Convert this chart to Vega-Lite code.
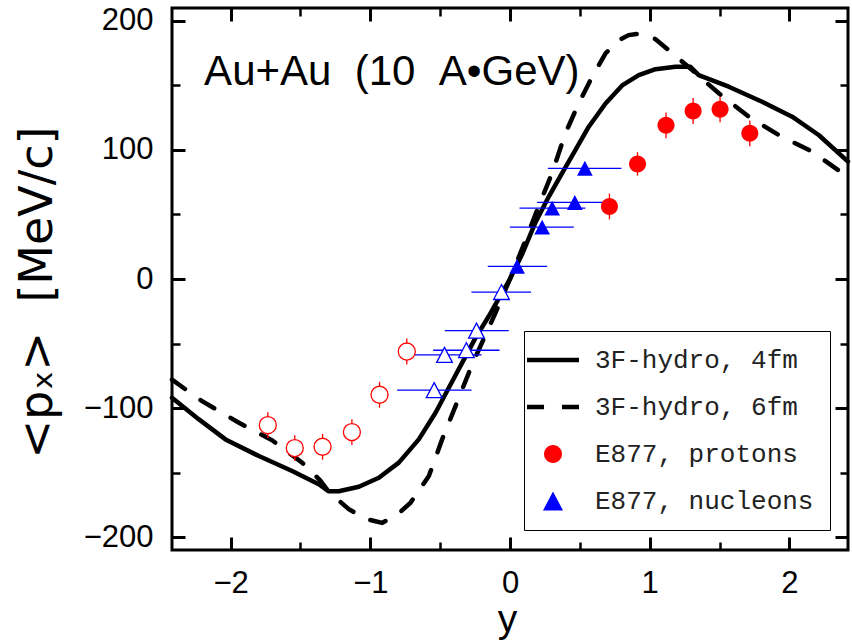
{
  "$schema": "https://vega.github.io/schema/vega-lite/v6.json",
  "width": 676,
  "height": 542,
  "autosize": "none",
  "padding": {"left": 172, "top": 8, "right": 4, "bottom": 90},
  "background": "white",
  "config": {
    "view": {"stroke": "black", "strokeWidth": 3},
    "font": "Liberation Sans",
    "axis": {
      "domain": false, "grid": false, "tickColor": "black", "labelColor": "black", "titleColor": "black",
      "labelFont": "Liberation Sans", "labelFontSize": 31, "titleFont": "DejaVu Sans", "titleFontSize": 46, "titleFontWeight": "normal"
    },
    "legend": {"title": null}
  },
  "datasets": {
    "curves": [
      {"series": "3F-hydro, 4fm", "rapidity": -2.42, "px": -92},
      {"series": "3F-hydro, 4fm", "rapidity": -2.227, "px": -108.8},
      {"series": "3F-hydro, 4fm", "rapidity": -2.037, "px": -124.3},
      {"series": "3F-hydro, 4fm", "rapidity": -1.798, "px": -137.2},
      {"series": "3F-hydro, 4fm", "rapidity": -1.56, "px": -148.8},
      {"series": "3F-hydro, 4fm", "rapidity": -1.369, "px": -159},
      {"series": "3F-hydro, 4fm", "rapidity": -1.3, "px": -164.5},
      {"series": "3F-hydro, 4fm", "rapidity": -1.226, "px": -164.5},
      {"series": "3F-hydro, 4fm", "rapidity": -1.082, "px": -161},
      {"series": "3F-hydro, 4fm", "rapidity": -0.939, "px": -154},
      {"series": "3F-hydro, 4fm", "rapidity": -0.796, "px": -142.3},
      {"series": "3F-hydro, 4fm", "rapidity": -0.653, "px": -124.3},
      {"series": "3F-hydro, 4fm", "rapidity": -0.533, "px": -103.6},
      {"series": "3F-hydro, 4fm", "rapidity": -0.438, "px": -84.3},
      {"series": "3F-hydro, 4fm", "rapidity": -0.343, "px": -65},
      {"series": "3F-hydro, 4fm", "rapidity": -0.247, "px": -45.6},
      {"series": "3F-hydro, 4fm", "rapidity": -0.152, "px": -28.9},
      {"series": "3F-hydro, 4fm", "rapidity": -0.08, "px": -15},
      {"series": "3F-hydro, 4fm", "rapidity": 0, "px": 0},
      {"series": "3F-hydro, 4fm", "rapidity": 0.09, "px": 20},
      {"series": "3F-hydro, 4fm", "rapidity": 0.183, "px": 44},
      {"series": "3F-hydro, 4fm", "rapidity": 0.278, "px": 63.9},
      {"series": "3F-hydro, 4fm", "rapidity": 0.373, "px": 82},
      {"series": "3F-hydro, 4fm", "rapidity": 0.469, "px": 100},
      {"series": "3F-hydro, 4fm", "rapidity": 0.564, "px": 118},
      {"series": "3F-hydro, 4fm", "rapidity": 0.684, "px": 136},
      {"series": "3F-hydro, 4fm", "rapidity": 0.803, "px": 150},
      {"series": "3F-hydro, 4fm", "rapidity": 0.922, "px": 158},
      {"series": "3F-hydro, 4fm", "rapidity": 1.042, "px": 162.6},
      {"series": "3F-hydro, 4fm", "rapidity": 1.185, "px": 164.4},
      {"series": "3F-hydro, 4fm", "rapidity": 1.292, "px": 164.4},
      {"series": "3F-hydro, 4fm", "rapidity": 1.351, "px": 158},
      {"series": "3F-hydro, 4fm", "rapidity": 1.566, "px": 149},
      {"series": "3F-hydro, 4fm", "rapidity": 1.805, "px": 137.4},
      {"series": "3F-hydro, 4fm", "rapidity": 2.02, "px": 125.8},
      {"series": "3F-hydro, 4fm", "rapidity": 2.21, "px": 111.6},
      {"series": "3F-hydro, 4fm", "rapidity": 2.42, "px": 91},
      {"series": "3F-hydro, 6fm", "rapidity": -2.42, "px": -78},
      {"series": "3F-hydro, 6fm", "rapidity": -2.204, "px": -94.7},
      {"series": "3F-hydro, 6fm", "rapidity": -1.941, "px": -111.4},
      {"series": "3F-hydro, 6fm", "rapidity": -1.703, "px": -125},
      {"series": "3F-hydro, 6fm", "rapidity": -1.488, "px": -142.3},
      {"series": "3F-hydro, 6fm", "rapidity": -1.36, "px": -156},
      {"series": "3F-hydro, 6fm", "rapidity": -1.297, "px": -165},
      {"series": "3F-hydro, 6fm", "rapidity": -1.154, "px": -178.4},
      {"series": "3F-hydro, 6fm", "rapidity": -1.03, "px": -186},
      {"series": "3F-hydro, 6fm", "rapidity": -0.915, "px": -189},
      {"series": "3F-hydro, 6fm", "rapidity": -0.8, "px": -182},
      {"series": "3F-hydro, 6fm", "rapidity": -0.712, "px": -173.3},
      {"series": "3F-hydro, 6fm", "rapidity": -0.581, "px": -152.7},
      {"series": "3F-hydro, 6fm", "rapidity": -0.486, "px": -124.3},
      {"series": "3F-hydro, 6fm", "rapidity": -0.39, "px": -98.5},
      {"series": "3F-hydro, 6fm", "rapidity": -0.295, "px": -72.7},
      {"series": "3F-hydro, 6fm", "rapidity": -0.223, "px": -54.7},
      {"series": "3F-hydro, 6fm", "rapidity": -0.104, "px": -26.3},
      {"series": "3F-hydro, 6fm", "rapidity": 0, "px": 0},
      {"series": "3F-hydro, 6fm", "rapidity": 0.1, "px": 27},
      {"series": "3F-hydro, 6fm", "rapidity": 0.2, "px": 55},
      {"series": "3F-hydro, 6fm", "rapidity": 0.301, "px": 82},
      {"series": "3F-hydro, 6fm", "rapidity": 0.397, "px": 113},
      {"series": "3F-hydro, 6fm", "rapidity": 0.492, "px": 136},
      {"series": "3F-hydro, 6fm", "rapidity": 0.588, "px": 156.7},
      {"series": "3F-hydro, 6fm", "rapidity": 0.684, "px": 174.8},
      {"series": "3F-hydro, 6fm", "rapidity": 0.779, "px": 185},
      {"series": "3F-hydro, 6fm", "rapidity": 0.85, "px": 189},
      {"series": "3F-hydro, 6fm", "rapidity": 0.922, "px": 190},
      {"series": "3F-hydro, 6fm", "rapidity": 1.04, "px": 186},
      {"series": "3F-hydro, 6fm", "rapidity": 1.137, "px": 177.3},
      {"series": "3F-hydro, 6fm", "rapidity": 1.304, "px": 161.9},
      {"series": "3F-hydro, 6fm", "rapidity": 1.495, "px": 143.9},
      {"series": "3F-hydro, 6fm", "rapidity": 1.709, "px": 125.8},
      {"series": "3F-hydro, 6fm", "rapidity": 1.923, "px": 111.6},
      {"series": "3F-hydro, 6fm", "rapidity": 2.163, "px": 98.7},
      {"series": "3F-hydro, 6fm", "rapidity": 2.42, "px": 79}
    ],
    "points": [
      {"series": "E877, protons", "rapidity": 0.712, "px": 56.2, "px_lo": 46.2, "px_hi": 66.2},
      {"series": "E877, protons", "rapidity": 0.913, "px": 89.2, "px_lo": 80.2, "px_hi": 98.2},
      {"series": "E877, protons", "rapidity": 1.117, "px": 119.1, "px_lo": 109.1, "px_hi": 129.1},
      {"series": "E877, protons", "rapidity": 1.311, "px": 130.2, "px_lo": 120.2, "px_hi": 140.2},
      {"series": "E877, protons", "rapidity": 1.504, "px": 131.5, "px_lo": 121.5, "px_hi": 141.5},
      {"series": "E877, protons", "rapidity": 1.717, "px": 112.9, "px_lo": 102.9, "px_hi": 122.9},
      {"series": "E877, protons", "rapidity": -1.734, "px": -113.2, "px_lo": -123.2, "px_hi": -103.2},
      {"series": "E877, protons", "rapidity": -1.541, "px": -131, "px_lo": -141, "px_hi": -121},
      {"series": "E877, protons", "rapidity": -1.342, "px": -130, "px_lo": -140, "px_hi": -120},
      {"series": "E877, protons", "rapidity": -1.132, "px": -118.6, "px_lo": -128.6, "px_hi": -108.6},
      {"series": "E877, protons", "rapidity": -0.934, "px": -89.7, "px_lo": -99.7, "px_hi": -79.7},
      {"series": "E877, protons", "rapidity": -0.739, "px": -56.2, "px_lo": -66.2, "px_hi": -46.2},
      {"series": "E877, nucleons", "rapidity": 0.536, "px": 85.8, "y_lo": 0.271, "y_hi": 0.798},
      {"series": "E877, nucleons", "rapidity": 0.464, "px": 59.3, "y_lo": 0.194, "y_hi": 0.731},
      {"series": "E877, nucleons", "rapidity": 0.302, "px": 54.9, "y_lo": 0.068, "y_hi": 0.54},
      {"series": "E877, nucleons", "rapidity": 0.23, "px": 40.2, "y_lo": -0.001, "y_hi": 0.457},
      {"series": "E877, nucleons", "rapidity": 0.051, "px": 9.8, "y_lo": -0.159, "y_hi": 0.266},
      {"series": "E877, nucleons", "rapidity": -0.061, "px": -10.1, "y_lo": -0.276, "y_hi": 0.151},
      {"series": "E877, nucleons", "rapidity": -0.24, "px": -40, "y_lo": -0.467, "y_hi": -0.009},
      {"series": "E877, nucleons", "rapidity": -0.312, "px": -55.2, "y_lo": -0.55, "y_hi": -0.075},
      {"series": "E877, nucleons", "rapidity": -0.469, "px": -58.8, "y_lo": -0.737, "y_hi": -0.204},
      {"series": "E877, nucleons", "rapidity": -0.543, "px": -86.1, "y_lo": -0.808, "y_hi": -0.276}
    ]
  },
  "resolve": {"scale": {"x": "shared", "y": "shared"}, "axis": {"x": "independent", "y": "independent"}},
  "layer": [
    {
      "data": {"name": "curves"},
      "transform": [{"filter": "datum.series === '3F-hydro, 4fm'"}],
      "mark": {"type": "line", "color": "black", "strokeWidth": 4.5, "strokeCap": "round", "strokeJoin": "round"},
      "encoding": {
        "x": {"field": "rapidity", "type": "quantitative", "scale": {"domain": [-2.42, 2.42], "nice": false, "zero": false},
          "axis": {"orient": "bottom", "values": [-2, -1, 0, 1, 2], "tickSize": -13, "tickWidth": 3, "labelPadding": 31, "format": "d",
            "title": "y", "titleFont": "Liberation Sans", "titleFontSize": 39, "titleX": 335, "titleY": 81, "titleAlign": "center", "titleBaseline": "alphabetic"}},
        "y": {"field": "px", "type": "quantitative", "scale": {"domain": [-210, 210], "nice": false, "zero": false},
          "axis": {"orient": "left", "values": [-200, -100, 0, 100, 200], "tickSize": -13, "tickWidth": 3, "labelPadding": 32,
            "title": "<pₓ>\u00a0\u00a0[MeV/c]", "titleX": -121, "titleY": 284, "titleAngle": -90, "titleAlign": "center", "titleBaseline": "alphabetic"}}
      }
    },
    {
      "data": {"name": "curves"},
      "transform": [{"filter": "datum.series === '3F-hydro, 6fm'"}],
      "mark": {"type": "line", "color": "black", "strokeWidth": 4.5, "strokeCap": "round", "strokeDash": [16, 19]},
      "encoding": {
        "x": {"field": "rapidity", "type": "quantitative",
          "axis": {"orient": "top", "values": [-2, -1, 0, 1, 2], "tickSize": -13, "tickWidth": 3, "labels": false, "title": null}},
        "y": {"field": "px", "type": "quantitative",
          "axis": {"orient": "right", "values": [-200, -100, 0, 100, 200], "tickSize": -13, "tickWidth": 3, "labels": false, "title": null}}
      }
    },
    {
      "data": {"name": "points"},
      "transform": [{"filter": "datum.series === 'E877, protons'"}],
      "mark": {"type": "rule", "color": "red", "strokeWidth": 1.3},
      "encoding": {
        "x": {"field": "rapidity", "type": "quantitative",
          "axis": {"orient": "bottom", "values": [-1.5, -0.5, 0.5, 1.5], "tickSize": -8, "tickWidth": 2.5, "labels": false, "title": null}},
        "y": {"field": "px_lo", "type": "quantitative",
          "axis": {"orient": "left", "values": [-150, -50, 50, 150], "tickSize": -8, "tickWidth": 2.5, "labels": false, "title": null}},
        "y2": {"field": "px_hi"}
      }
    },
    {
      "data": {"name": "points"},
      "transform": [{"filter": "datum.series === 'E877, nucleons'"}],
      "mark": {"type": "rule", "color": "blue", "strokeWidth": 1.3},
      "encoding": {
        "x": {"field": "y_lo", "type": "quantitative",
          "axis": {"orient": "top", "values": [-1.5, -0.5, 0.5, 1.5], "tickSize": -8, "tickWidth": 2.5, "labels": false, "title": null}},
        "x2": {"field": "y_hi"},
        "y": {"field": "px", "type": "quantitative",
          "axis": {"orient": "right", "values": [-150, -50, 50, 150], "tickSize": -8, "tickWidth": 2.5, "labels": false, "title": null}}
      }
    },
    {
      "data": {"name": "points"},
      "transform": [{"filter": "datum.series === 'E877, protons' && datum.rapidity < 0"}],
      "mark": {"type": "point", "filled": false, "fill": "white", "stroke": "red", "strokeWidth": 1.3, "size": 1971, "opacity": 1,
        "shape": "M0.383,0A0.383,0.383,0,1,1,-0.383,0A0.383,0.383,0,1,1,0.383,0Z"},
      "encoding": {
        "x": {"field": "rapidity", "type": "quantitative", "axis": null},
        "y": {"field": "px", "type": "quantitative", "axis": null}
      }
    },
    {
      "data": {"name": "points"},
      "transform": [{"filter": "datum.series === 'E877, nucleons' && datum.rapidity < 0"}],
      "mark": {"type": "point", "filled": false, "fill": "white", "stroke": "blue", "strokeWidth": 1.3, "size": 1369, "opacity": 1,
        "shape": "M0,-0.404L0.425,0.404L-0.425,0.404Z"},
      "encoding": {
        "x": {"field": "rapidity", "type": "quantitative", "axis": null},
        "y": {"field": "px", "type": "quantitative", "axis": null}
      }
    },
    {
      "data": {"name": "points"},
      "transform": [{"filter": "datum.series === 'E877, protons' && datum.rapidity >= 0"}],
      "mark": {"type": "point", "filled": true, "size": 604, "opacity": 1},
      "encoding": {
        "x": {"field": "rapidity", "type": "quantitative", "axis": null},
        "y": {"field": "px", "type": "quantitative", "axis": null},
        "color": {"field": "series", "type": "nominal",
          "scale": {"domain": ["3F-hydro, 4fm", "3F-hydro, 6fm", "E877, protons", "E877, nucleons"], "range": ["black", "black", "red", "blue"]},
          "legend": {"title": null, "orient": "none", "legendX": 352, "legendY": 323, "padding": 16, "strokeColor": "black", "fillColor": "white",
            "symbolSize": 676, "symbolStrokeWidth": 0, "labelFont": "Liberation Mono", "labelFontSize": 26, "labelColor": "#222", "labelOffset": 29, "rowPadding": 21, "labelLimit": 400}},
        "shape": {"field": "series", "type": "nominal",
          "scale": {"domain": ["3F-hydro, 4fm", "3F-hydro, 6fm", "E877, protons", "E877, nucleons"],
            "range": ["M-2,-0.18H2V0.18H-2Z", "M-2,-0.18H-0.69V0.18H-2ZM0.69,-0.18H2V0.18H0.69Z", "M0.692,0A0.692,0.692,0,1,1,-0.692,0A0.692,0.692,0,1,1,0.692,0Z", "M0,-0.73L0.77,0.73L-0.77,0.73Z"]},
          "legend": {"title": null, "orient": "none", "legendX": 352, "legendY": 323, "padding": 16, "strokeColor": "black", "fillColor": "white",
            "symbolSize": 676, "symbolStrokeWidth": 0, "labelFont": "Liberation Mono", "labelFontSize": 26, "labelColor": "#222", "labelOffset": 29, "rowPadding": 21, "labelLimit": 400}}
      }
    },
    {
      "data": {"name": "points"},
      "transform": [{"filter": "datum.series === 'E877, nucleons' && datum.rapidity >= 0"}],
      "mark": {"type": "point", "filled": true, "size": 416, "opacity": 1},
      "encoding": {
        "x": {"field": "rapidity", "type": "quantitative", "axis": null},
        "y": {"field": "px", "type": "quantitative", "axis": null},
        "color": {"field": "series", "type": "nominal"},
        "shape": {"field": "series", "type": "nominal"}
      }
    },
    {
      "data": {"values": [{"label": "Au+Au\u00a0\u00a0(10\u00a0\u00a0A•GeV)"}]},
      "mark": {"type": "text", "align": "left", "baseline": "alphabetic", "fontSize": 42, "font": "Liberation Sans", "color": "black"},
      "encoding": {
        "x": {"datum": -2.19, "type": "quantitative", "axis": null},
        "y": {"datum": 150, "type": "quantitative", "axis": null},
        "text": {"field": "label"}
      }
    }
  ]
}
